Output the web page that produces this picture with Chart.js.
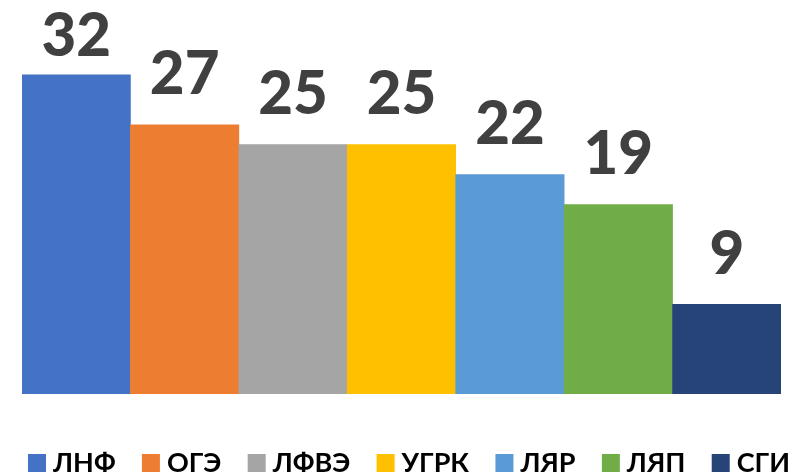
<!DOCTYPE html>
<html>
<head>
<meta charset="utf-8">
<script src="https://cdn.jsdelivr.net/npm/chart.js@4/dist/chart.umd.min.js"></script>
<style>
  html, body { margin: 0; padding: 0; background: #fff; }
  #wrap { width: 793px; height: 473px; }
</style>
</head>
<body>
<div id="wrap"><canvas id="graph"></canvas></div>
<script>
const categories = ['ЛНФ', 'ОГЭ', 'ЛФВЭ', 'УГРК', 'ЛЯР', 'ЛЯП', 'СГИ'];
const values = [32, 27, 25, 25, 22, 19, 9];
const colors = ['#4472C4', '#ED7D31', '#A5A5A5', '#FFC000', '#5B9BD5', '#70AD47', '#264478'];

const FONT = 'Lato, Carlito, "Open Sans", sans-serif';

// value labels above the bars, kept inside the canvas like Excel does
const valueLabels = {
    id: 'valueLabels',
    afterDatasetsDraw(chart) {
        const c = chart.ctx;
        const meta = chart.getDatasetMeta(0);
        c.save();
        c.font = '900 60px ' + FONT;
        c.fillStyle = '#404040';
        c.textAlign = 'center';
        c.textBaseline = 'middle';
        meta.data.forEach((bar, i) => {
            const y = Math.max(bar.y - 50, 37);
            c.fillText(String(values[i]), bar.x, y);
        });
        c.restore();
    }
};

// legend row along the bottom edge (Excel style: small gap box -> text)
const bottomLegend = {
    id: 'bottomLegend',
    afterDraw(chart) {
        const c = chart.ctx;
        const box = 18;
        const yMid = 463;
        const left = 28, right = 790;
        c.save();
        c.font = 'bold 27px ' + FONT;
        c.textBaseline = 'middle';
        const widths = categories.map(n => c.measureText(n).width);
        const used = widths.reduce((a, w) => a + w + box + 7, 0);
        const gap = (right - left - used) / (categories.length - 1);
        let x = left;
        categories.forEach((name, i) => {
            c.fillStyle = colors[i];
            c.fillRect(x, yMid - box / 2, box, box);
            c.fillStyle = '#000';
            c.fillText(name, x + box + 7, yMid);
            x += box + 7 + widths[i] + gap;
        });
        c.restore();
    }
};

const config = {
    type: 'bar',
    data: {
        labels: categories,
        datasets: [{
            data: values,
            backgroundColor: colors,
            borderWidth: 0,
            barPercentage: 1,
            categoryPercentage: 1
        }]
    },
    options: {
        responsive: true,
        maintainAspectRatio: false,
        animation: false,
        layout: { padding: { left: 22, right: 12, top: 15, bottom: 79 } },
        scales: {
            x: { display: false },
            y: { display: false, min: 0, max: 38 }
        },
        plugins: {
            tooltip: { enabled: false },
            legend: { display: false }
        }
    },
    plugins: [valueLabels, bottomLegend]
};

new Chart(document.getElementById('graph'), config);
</script>
</body>
</html>
